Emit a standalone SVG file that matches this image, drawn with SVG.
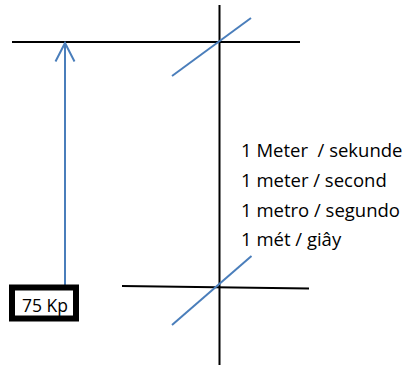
<svg xmlns="http://www.w3.org/2000/svg" width="407" height="365" viewBox="0 0 407 365">
  <style>
    .blk { stroke: #000; stroke-width: 2; fill: none; }
    .blu { stroke: #4a7ebb; stroke-width: 2; fill: none; }
    .txt { font-family: "Open Sans", "Liberation Sans", sans-serif; font-size: 18.5px; fill: #000; white-space: pre; }
  </style>
  <rect width="407" height="365" fill="#fff"/>
  <g id="connectors">
    <line class="blk" x1="219.5" y1="5" x2="219.5" y2="365"/>
    <line class="blk" x1="12" y1="42" x2="300" y2="42"/>
    <line class="blk" x1="122" y1="286" x2="309" y2="288.5"/>
    <line class="blu" x1="172" y1="76" x2="251" y2="18"/>
    <line class="blu" x1="172" y1="325" x2="251.5" y2="256"/>
    <line class="blu" x1="65" y1="287" x2="65" y2="43"/>
    <polyline class="blu" points="55.5,61.5 65,43 74.5,61.5"/>
  </g>
  <g id="box">
    <rect x="12" y="287.5" width="64" height="31" fill="#fff" stroke="#000" stroke-width="6"/>
    <text class="txt" x="22" y="312" style="font-size:17.5px">75 Kp</text>
  </g>
  <g id="labels">
    <text class="txt" x="241" y="157" xml:space="preserve">1 Meter  / sekunde</text>
    <text class="txt" x="241" y="186.8">1 meter / second</text>
    <text class="txt" x="241" y="216.5">1 metro / segundo</text>
    <text class="txt" x="241" y="246.3">1 mét / giây</text>
  </g>
</svg>
